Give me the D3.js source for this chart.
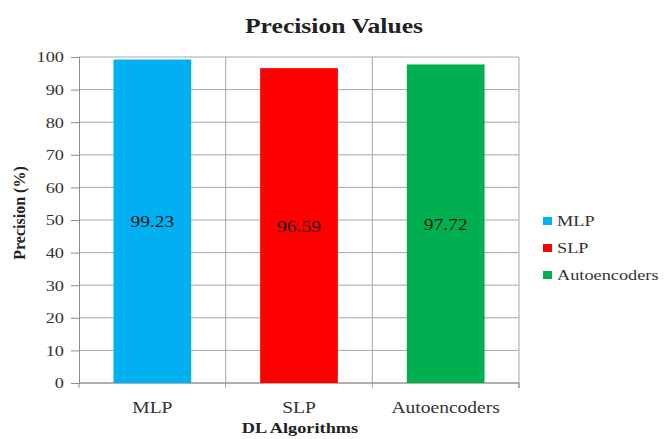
<!DOCTYPE html>
<html>
<head>
<meta charset="utf-8">
<script src="https://d3js.org/d3.v7.min.js"></script>
<style>
  body { margin: 0; background: #fff; }
  svg { font-family: "Liberation Serif", "Times New Roman", serif; }
</style>
</head>
<body>
<svg id="chart"></svg>
<script>
var categories = ["MLP", "SLP", "Autoencoders"];
var precision = [99.23, 96.59, 97.72];
var colors = ["#00b0f0", "#ff0000", "#00b050"];
var yTicks = [0, 10, 20, 30, 40, 50, 60, 70, 80, 90, 100];

var dimensions = {
    width: 667,
    height: 439,
    margin: { top: 57, right: 148, bottom: 56, left: 79 }
};

// the source picture is a bit wider than tall, so text is stretched sideways
var stretch = 1.22;

var svg = d3.select("#chart")
            .attr("width", dimensions.width)
            .attr("height", dimensions.height);

var data = categories.map((c, i) => ({ name: c, value: precision[i], color: colors[i] }));

var bottom = dimensions.height - dimensions.margin.bottom;
var right = dimensions.width - dimensions.margin.right;

var xScale = d3.scaleBand()
            .domain(categories)
            .range([dimensions.margin.left, right])
            .padding(0);

var yScale = d3.scaleLinear()
            .domain([0, 100])
            .range([bottom, dimensions.margin.top]);

function stretchedText(x, y, str, size, bold) {
    return svg.append("text")
        .attr("transform", `translate(${x},${y}) scale(${stretch},1)`)
        .attr("text-anchor", "middle")
        .style("font-size", size + "px")
        .style("font-weight", bold ? "bold" : "normal")
        .attr("fill", "#222")
        .text(str);
}

// horizontal grid lines
svg.append("g")
    .selectAll("line")
    .data(yTicks)
    .enter()
    .append("line")
    .attr("x1", dimensions.margin.left)
    .attr("x2", right)
    .attr("y1", d => yScale(d))
    .attr("y2", d => yScale(d))
    .attr("stroke", "#a6a6a6")
    .attr("stroke-width", 1);

// vertical grid lines at category boundaries
var bounds = categories.map(c => xScale(c) + xScale.bandwidth());
svg.append("g")
    .selectAll("line")
    .data(bounds)
    .enter()
    .append("line")
    .attr("x1", d => d)
    .attr("x2", d => d)
    .attr("y1", dimensions.margin.top)
    .attr("y2", bottom + 5)
    .attr("stroke", "#a6a6a6")
    .attr("stroke-width", 1);

// y axis
var yAxis = svg.append("g")
    .attr("transform", `translate(${dimensions.margin.left},0)`)
    .call(d3.axisLeft(yScale).tickValues(yTicks).tickSize(8).tickPadding(6));
yAxis.selectAll("path, line").attr("stroke", "#8c8c8c");
yAxis.selectAll("text")
    .attr("x", -15 / stretch)
    .attr("transform", `scale(${stretch},1)`)
    .style("font-family", "Liberation Serif, serif")
    .style("font-size", "15px")
    .attr("fill", "#333");

// x axis
var xAxis = svg.append("g")
    .attr("transform", `translate(0,${bottom})`)
    .call(d3.axisBottom(xScale).tickSize(0));
xAxis.select("path").attr("stroke", "#8c8c8c").attr("d", `M${dimensions.margin.left},5V0H${right}V5`);
xAxis.selectAll("text")
    .attr("y", 30)
    .attr("dy", 0)
    .attr("transform", `scale(${stretch},1)`)
    .style("font-family", "Liberation Serif, serif")
    .style("font-size", "16px")
    .attr("fill", "#333");

// bars
var barWidth = xScale.bandwidth() * 0.53;
svg.selectAll("rect.bar")
    .data(data)
    .enter()
    .append("rect")
    .attr("class", "bar")
    .attr("x", d => xScale(d.name) + (xScale.bandwidth() - barWidth) / 2)
    .attr("y", d => yScale(d.value))
    .attr("width", barWidth)
    .attr("height", d => bottom - yScale(d.value))
    .attr("fill", d => d.color);

// value labels in the middle of each bar
data.forEach(d => {
    stretchedText(xScale(d.name) + xScale.bandwidth() / 2, yScale(d.value / 2) + 6, d.value.toFixed(2), 16, false)
        .attr("fill", "#1a1a1a");
});

// title and axis titles
stretchedText(334, 33, "Precision Values", 21, true);
stretchedText(300, 433, "DL Algorithms", 15, true);

svg.append("text")
    .attr("transform", "translate(25,213)rotate(-90)")
    .attr("text-anchor", "middle")
    .style("font-size", "16px")
    .style("font-weight", "bold")
    .attr("fill", "#222")
    .text("Precision (%)");

// legend
var legend = svg.append("g")
    .attr("transform", "translate(543,217)");
var items = legend.selectAll("g")
    .data(data)
    .enter()
    .append("g")
    .attr("transform", (d, i) => `translate(0,${i * 27})`);
items.append("rect")
    .attr("width", 9)
    .attr("height", 8)
    .attr("fill", d => d.color);
items.append("text")
    .attr("transform", `translate(14,9) scale(${stretch},1)`)
    .style("font-size", "15px")
    .attr("fill", "#333")
    .text(d => d.name);
</script>
</body>
</html>
